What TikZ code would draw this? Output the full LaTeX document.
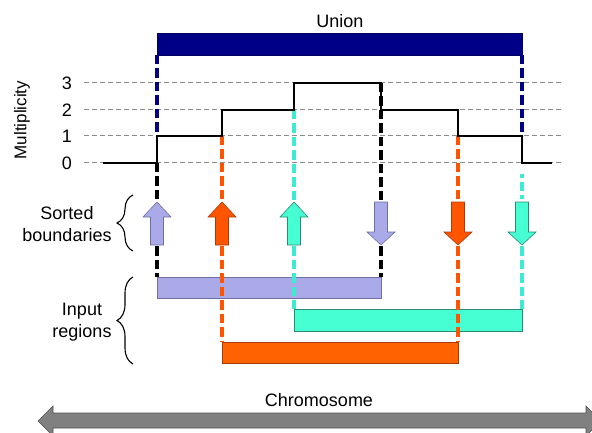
\documentclass[tikz,border=0pt]{standalone}
\usepackage{fontspec}
\setmainfont{Liberation Sans}
\usetikzlibrary{decorations.pathreplacing}
\definecolor{lav}{RGB}{170,170,232}
\definecolor{lavline}{RGB}{110,110,160}
\definecolor{org}{RGB}{255,98,0}
\definecolor{orgarr}{RGB}{255,85,0}
\definecolor{orgline}{RGB}{170,60,10}
\definecolor{cyn}{RGB}{70,255,210}
\definecolor{cynline}{RGB}{40,140,115}
\definecolor{cyndash}{RGB}{60,235,210}
\definecolor{navyc}{RGB}{0,0,135}
\definecolor{gridgray}{RGB}{140,140,140}
\definecolor{chrom}{RGB}{128,128,128}
\definecolor{chromline}{RGB}{80,80,80}
\newcommand\UpBlock[3]{%
  \filldraw[blockarrow, fill=#2, draw=#3] (#1-6.5,245) -- (#1-6.5,217) -- (#1-14,217) -- (#1,202) -- (#1+14,217) -- (#1+6.5,217) -- (#1+6.5,245) -- cycle;}
\newcommand\DownBlock[3]{%
  \filldraw[blockarrow, fill=#2, draw=#3] (#1-6.5,202) -- (#1+6.5,202) -- (#1+6.5,232) -- (#1+14,232) -- (#1,245) -- (#1-14,232) -- (#1-6.5,232) -- cycle;}
\begin{document}
\begin{tikzpicture}[x=1pt,y=-1pt,
  lbl/.style={font=\fontsize{18}{22}\selectfont, inner sep=0pt, align=center},
  gridline/.style={draw=gridgray, line width=1pt, dash pattern=on 5pt off 3pt},
  stepline/.style={line width=2.6pt, line join=miter},
  guide/.style={line width=3.4pt, dash pattern=on 9.5pt off 4pt},
  bar/.style={line width=0.6pt},
  blockarrow/.style={line width=0.6pt, line join=miter},
  bracestyle/.style={decorate, decoration={brace, amplitude=16pt}, line width=1.1pt}]

\useasboundingbox (0,0) rectangle (592,433);
\begin{scope}
\clip (0,0) rectangle (592,433);

% grid lines
\foreach \yy in {83,110,136,163} {
  \draw[gridline] (84,\yy) -- (563,\yy);
}

% level labels
\node[lbl] (n3) at (67,83) {3};
\node[lbl] (n2) at (67,110) {2};
\node[lbl] (n1) at (67,136) {1};
\node[lbl] (n0) at (67,163) {0};
\node[lbl, font=\fontsize{17}{20}\selectfont, rotate=90] (mult) at (22,120) {Multiplicity};

% union bar
\filldraw[bar, fill=navyc, draw=navyc!70!black] (157,33) rectangle (522,55);
\node[lbl] (union) at (340,21) {Union};

% input region bars
\filldraw[bar, fill=lav, draw=lavline] (157,277) rectangle (381,298);
\filldraw[bar, fill=cyn, draw=cynline] (294,309) rectangle (522,331);
\filldraw[bar, fill=org, draw=orgline] (222,342) rectangle (458,363);

% guide lines
\draw[guide, navyc] (157,55) -- (157,136);
\draw[guide, navyc] (522,55) -- (522,136);
\draw[guide, black] (157,163) -- (157,201);
\draw[guide, black] (157,246) -- (157,277);
\draw[guide, orgarr] (222,136) -- (222,201);
\draw[guide, orgarr] (222,246) -- (222,342);
\draw[guide, cyndash] (294,110) -- (294,201);
\draw[guide, cyndash] (294,246) -- (294,309);
\draw[guide, black] (381,83) -- (381,201);
\draw[guide, black] (381,246) -- (381,277);
\draw[guide, orgarr] (458,136) -- (458,201);
\draw[guide, orgarr] (458,246) -- (458,342);
\draw[guide, cyndash, dash pattern=on 4pt off 4pt on 9pt off 4pt] (522,174) -- (522,201);
\draw[guide, cyndash] (522,246) -- (522,309);

% step function
\draw[stepline] (103,163) -- (157,163) -- (157,136) -- (222,136) -- (222,110) -- (294,110) -- (294,83) -- (381,83) -- (381,110) -- (458,110) -- (458,136) -- (522,136) -- (522,163) -- (552,163);

% sorted boundary arrows
\UpBlock{157}{lav}{lavline}
\UpBlock{222}{orgarr}{orgline}
\UpBlock{294}{cyn}{cynline}
\DownBlock{381}{lav}{lavline}
\DownBlock{458}{orgarr}{orgline}
\DownBlock{522}{cyn}{cynline}

% labels with braces
\node[lbl] (sorted) at (67,224) {Sorted\\boundaries};
\node[lbl] (input) at (82,322) {Input\\regions};
\coordinate (bs1) at (133,251);
\coordinate (bs2) at (133,195);
\coordinate (bi1) at (133,364);
\coordinate (bi2) at (133,277);
\draw[bracestyle] (bs1) -- (bs2);
\draw[bracestyle] (bi1) -- (bi2);

% chromosome arrow
\filldraw[blockarrow, fill=chrom, draw=chromline] (38,421) -- (53,406) -- (53,413) -- (586,413) -- (586,406) -- (601,421) -- (586,436) -- (586,428) -- (53,428) -- (53,436) -- cycle;
\node[lbl] (chromosome) at (319,400) {Chromosome};
\end{scope}
\end{tikzpicture}
\end{document}
